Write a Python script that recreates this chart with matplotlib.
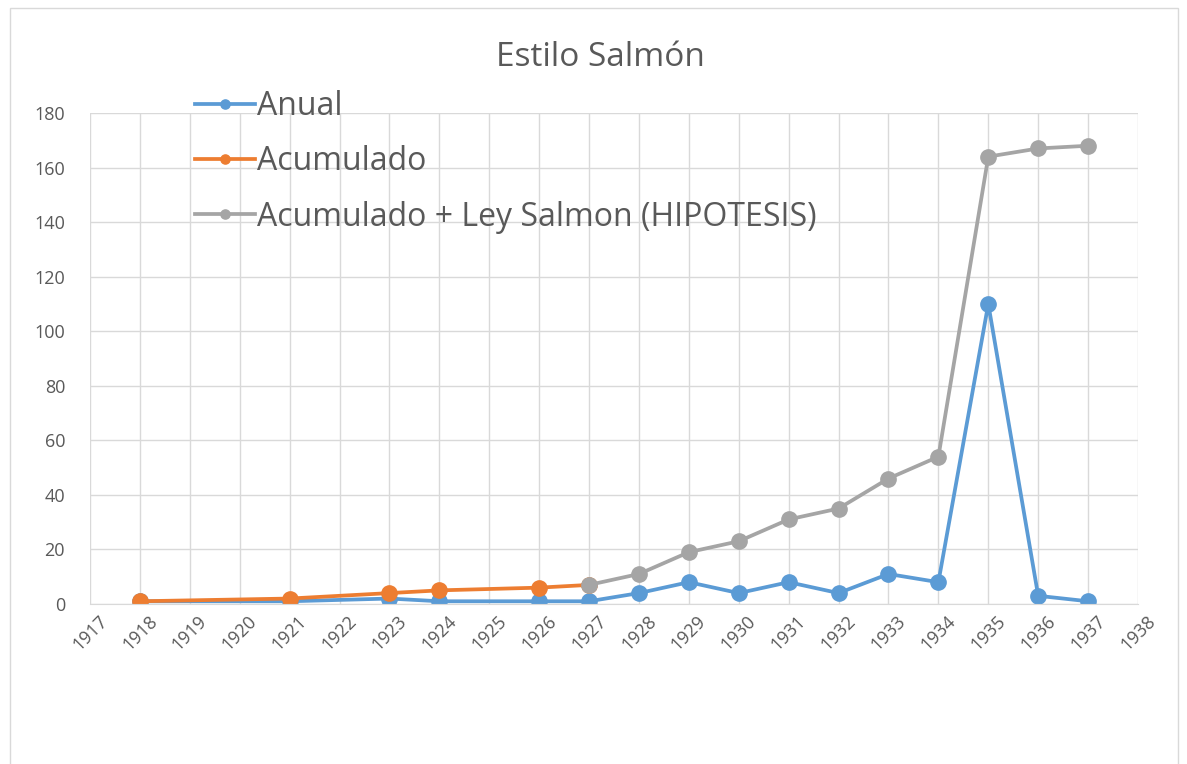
import matplotlib.pyplot as plt
from matplotlib.patches import Rectangle

years_anual = [1918, 1921, 1923, 1924, 1926, 1927, 1928, 1929, 1930, 1931,
               1932, 1933, 1934, 1935, 1936, 1937]
anual = [1, 1, 2, 1, 1, 1, 4, 8, 4, 8, 4, 11, 8, 110, 3, 1]

years_acum = [1918, 1921, 1923, 1924, 1926, 1927]
acumulado = [1, 2, 4, 5, 6, 7]

years_hip = [1927, 1928, 1929, 1930, 1931, 1932, 1933, 1934, 1935, 1936, 1937]
hipotesis = [7, 11, 19, 23, 31, 35, 46, 54, 164, 167, 168]

labels = ['Anual', 'Acumulado', 'Acumulado + Ley Salmon (HIPOTESIS)']
colors = ['#5B9BD5', '#ED7D31', '#A5A5A5']

plt.rcParams['font.family'] = ['Open Sans', 'DejaVu Sans']

fig = plt.figure(figsize=(11.87, 7.64), dpi=100)
ax = fig.add_axes([90 / 1187, 1 - 604 / 764, 1048 / 1187, 491 / 764])

# outer chart border
fig.patches.append(Rectangle((10 / 1187, -0.1), 1168 / 1187, 1 - 8 / 764 + 0.1,
                             transform=fig.transFigure, fill=False,
                             edgecolor='#D9D9D9', linewidth=1))

series = [(years_anual, anual), (years_acum, acumulado), (years_hip, hipotesis)]
for (x, y), lab, c in zip(series, labels, colors):
    ax.plot(x, y, color=c, linewidth=2.7, marker='o', markersize=11, label=lab)

ax.set_xlim(1917, 1938)
ax.set_ylim(0, 180)
ax.set_xticks(range(1917, 1939))
ax.set_yticks(range(0, 181, 20))
ax.tick_params(axis='x', labelrotation=45, labelsize=13, colors='#595959', length=0, pad=6)
ax.tick_params(axis='y', labelsize=13, colors='#595959', length=0, pad=18)
for lbl in ax.get_xticklabels():
    lbl.set_ha('center')

ax.grid(True, color='#D9D9D9', linewidth=1)
ax.set_axisbelow(True)
for s in ['top', 'right', 'left']:
    ax.spines[s].set_visible(False)
ax.spines['bottom'].set_color('#D9D9D9')

fig.text(600 / 1187, 1 - 57 / 764, 'Estilo Salmón', ha='center', va='center',
         fontsize=24, color='#595959')

leg = fig.legend(loc='upper left', bbox_to_anchor=(182 / 1187, 1 - 77 / 764),
                 frameon=False, fontsize=23, handlelength=1.9, handletextpad=0.05,
                 labelspacing=0.7, markerscale=0.6, borderaxespad=0)
for t in leg.get_texts():
    t.set_color('#595959')

fig.savefig('out.png', dpi=100)
